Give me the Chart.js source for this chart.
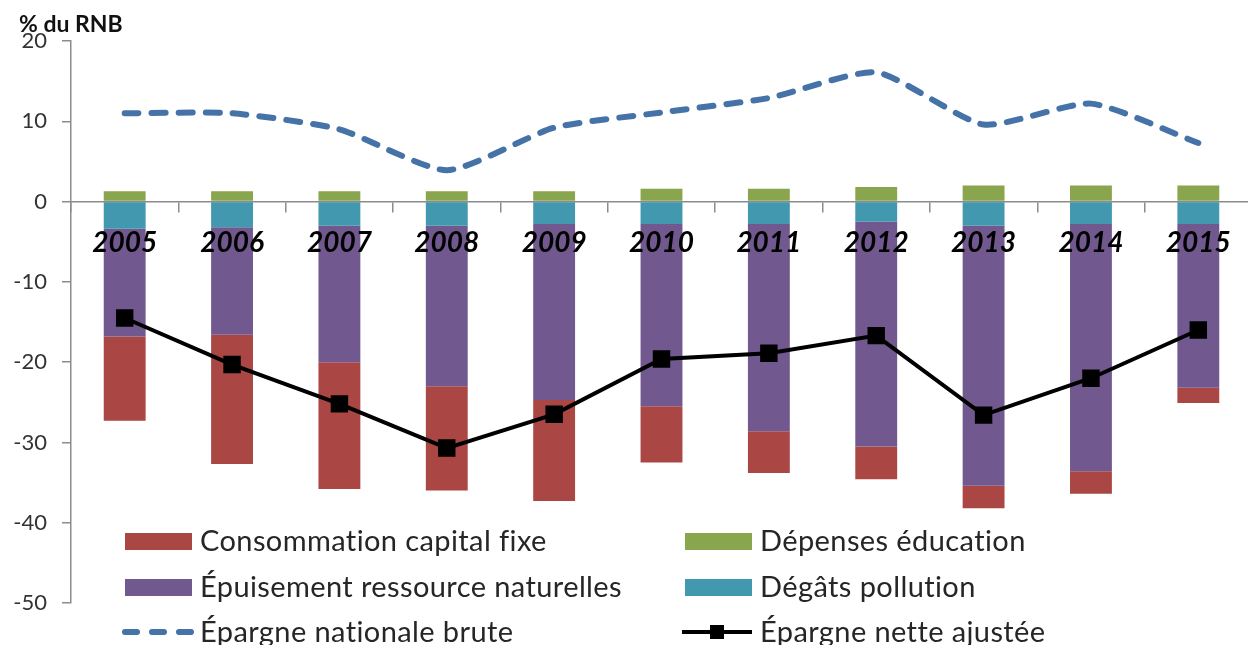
<!DOCTYPE html>
<html lang="fr">
<head>
  <meta charset="UTF-8">
  <title>Épargne nette ajustée</title>
  <script src="https://cdn.jsdelivr.net/npm/chart.js"></script>
  <style>
    body {
      margin: 0;
      background: #fff;
      overflow: hidden;
    }

    .chart-box {
      position: relative;
      width: 1252px;
      height: 645px;
    }
  </style>
</head>
<body>
  <div class="chart-box">
    <canvas id="savingsChart"></canvas>
  </div>

  <script>
    // values, % du RNB
    const years = ['2005', '2006', '2007', '2008', '2009', '2010', '2011', '2012', '2013', '2014', '2015'];
    const education = [1.3, 1.3, 1.3, 1.3, 1.3, 1.6, 1.6, 1.8, 2.0, 2.0, 2.0];
    const pollution = [-3.4, -3.2, -3.0, -3.0, -2.8, -2.8, -2.8, -2.5, -3.0, -2.8, -2.8];
    const depletion = [-13.4, -13.4, -17.0, -20.0, -21.9, -22.7, -25.8, -28.0, -32.4, -30.8, -20.4];
    const fixedCapital = [-10.5, -16.1, -15.8, -13.0, -12.6, -7.0, -5.2, -4.1, -2.8, -2.8, -1.9];
    const grossSavings = [11.0, 11.0, 9.0, 3.9, 9.2, 11.1, 12.9, 16.1, 9.6, 12.2, 7.3];
    const netSavings = [-14.5, -20.3, -25.2, -30.7, -26.5, -19.6, -18.9, -16.7, -26.6, -22.0, -16.0];

    const FONT = 'Lato, "Open Sans", sans-serif';

    // legend sits inside the plot, two columns, like the original
    const legendSlots = [
      { ds: 3, col: 0, row: 0 },
      { ds: 0, col: 1, row: 0 },
      { ds: 2, col: 0, row: 1 },
      { ds: 1, col: 1, row: 1 },
      { ds: 4, col: 0, row: 2 },
      { ds: 5, col: 1, row: 2 }
    ];

    const overlayPlugin = {
      id: 'overlay',
      afterDraw(chart) {
        const ctx = chart.ctx;
        const area = chart.chartArea;
        ctx.save();

        // unit label top-left
        ctx.fillStyle = '#111';
        ctx.font = 'bold 23px ' + FONT;
        ctx.textBaseline = 'middle';
        ctx.textAlign = 'left';
        ctx.fillText('% du RNB', 19, 25);

        const colX = [area.left + 54, area.left + 614];
        const rowY = [541, 587, 632];
        ctx.font = '29px ' + FONT;
        ctx.letterSpacing = '0.4px';

        legendSlots.forEach(slot => {
          const ds = chart.data.datasets[slot.ds];
          const x = colX[slot.col];
          const y = rowY[slot.row];

          if (ds.type === 'line' && ds.borderDash) {
            ctx.strokeStyle = ds.borderColor;
            ctx.lineWidth = ds.borderWidth;
            ctx.lineCap = 'round';
            ctx.setLineDash([12, 15]);
            ctx.beginPath();
            ctx.moveTo(x, y);
            ctx.lineTo(x + 66, y);
            ctx.stroke();
            ctx.setLineDash([]);
          } else if (ds.type === 'line') {
            ctx.strokeStyle = ds.borderColor;
            ctx.lineWidth = ds.borderWidth;
            ctx.lineCap = 'butt';
            ctx.beginPath();
            ctx.moveTo(x - 3, y);
            ctx.lineTo(x + 67, y);
            ctx.stroke();
            ctx.fillStyle = ds.pointBackgroundColor;
            ctx.fillRect(x + 25, y - 7, 14, 14);
          } else {
            ctx.fillStyle = ds.backgroundColor;
            ctx.fillRect(x, y - 8, 67, 17);
          }

          ctx.fillStyle = '#262626';
          ctx.fillText(ds.label, x + 75, y + 1);
        });

        ctx.restore();
      }
    };

    new Chart(document.getElementById('savingsChart'), {
      data: {
        labels: years,
        datasets: [
          {
            type: 'bar',
            label: 'Dépenses éducation',
            data: education,
            backgroundColor: '#89A54E',
            stack: 'bars',
            order: 1
          },
          {
            type: 'bar',
            label: 'Dégâts pollution',
            data: pollution,
            backgroundColor: '#4198AF',
            stack: 'bars',
            order: 1
          },
          {
            type: 'bar',
            label: 'Épuisement ressource naturelles',
            data: depletion,
            backgroundColor: '#71588F',
            stack: 'bars',
            order: 1
          },
          {
            type: 'bar',
            label: 'Consommation capital fixe',
            data: fixedCapital,
            backgroundColor: '#AA4643',
            stack: 'bars',
            order: 1
          },
          {
            type: 'line',
            label: 'Épargne nationale brute',
            data: grossSavings,
            borderColor: '#4572A7',
            borderWidth: 6,
            borderDash: [14, 13],
            borderCapStyle: 'round',
            pointRadius: 0,
            tension: 0.2,
            fill: false,
            stack: 'gross',
            order: 0
          },
          {
            type: 'line',
            label: 'Épargne nette ajustée',
            data: netSavings,
            borderColor: '#000',
            borderWidth: 4,
            pointStyle: 'rect',
            pointRadius: 9.5,
            pointBackgroundColor: '#000',
            pointBorderColor: '#000',
            tension: 0,
            fill: false,
            stack: 'net',
            order: 0
          }
        ]
      },
      options: {
        responsive: true,
        maintainAspectRatio: false,
        animation: false,
        layout: {
          autoPadding: false,
          padding: { left: 0, right: 0, top: 41, bottom: 42 }
        },
        datasets: {
          bar: { barPercentage: 0.39, categoryPercentage: 1 }
        },
        plugins: {
          legend: { display: false },
          tooltip: { enabled: false }
        },
        scales: {
          x: {
            stacked: true,
            position: { y: 0 },
            afterFit(scale) {
              // the year labels fit inside their slots, no side padding needed
              scale.paddingLeft = 0;
              scale.paddingRight = 0;
            },
            grid: {
              drawOnChartArea: false,
              drawTicks: true,
              tickLength: 10,
              color: '#8c8c8c',
              lineWidth: 1.5
            },
            border: { color: '#8c8c8c', width: 1.5 },
            ticks: {
              z: 1,
              padding: 15,
              color: '#000',
              font: { family: FONT, size: 28, weight: 'bold', style: 'italic' }
            }
          },
          y: {
            stacked: true,
            min: -50,
            max: 20,
            afterFit(scale) {
              scale.width = 71;
            },
            grid: {
              drawOnChartArea: false,
              drawTicks: true,
              tickLength: 9,
              color: '#8c8c8c',
              lineWidth: 1.5
            },
            border: { color: '#8c8c8c', width: 1.5 },
            ticks: {
              stepSize: 10,
              padding: 15,
              color: '#333',
              font: { family: FONT, size: 22 }
            }
          }
        }
      },
      plugins: [overlayPlugin]
    });
  </script>
</body>
</html>
